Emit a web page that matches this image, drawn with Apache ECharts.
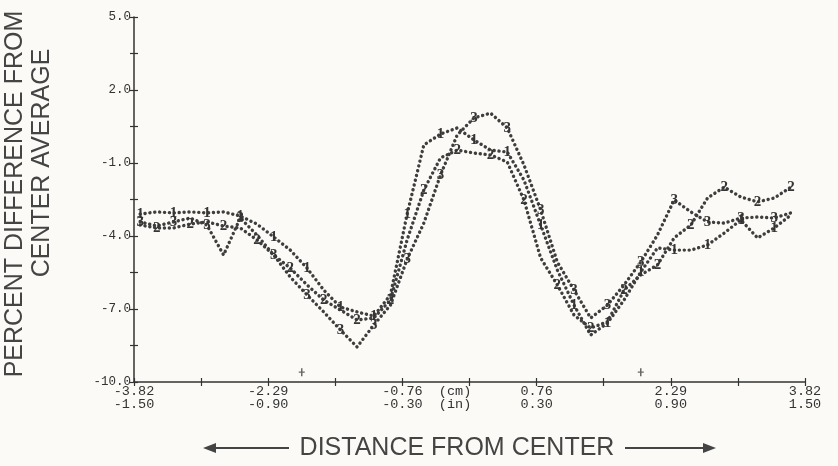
<!DOCTYPE html>
<html>
<head>
<meta charset="utf-8">
<script src="https://cdn.jsdelivr.net/npm/echarts@6/dist/echarts.min.js"></script>
<style>
html,body{margin:0;padding:0;background:#fbfaf6;}
#chart{width:838px;height:466px;}
</style>
</head>
<body>
<div id="chart"></div>
<script>
// Distance from center (cm)
const xCm = [-3.75,-3.56,-3.37,-3.18,-2.99,-2.80,-2.61,-2.42,-2.23,-2.04,-1.85,-1.66,-1.47,-1.28,-1.09,-0.90,-0.71,-0.52,-0.33,-0.14,0.05,0.24,0.43,0.62,0.81,1.00,1.19,1.38,1.57,1.76,1.95,2.14,2.33,2.52,2.71,2.90,3.09,3.28,3.47,3.66];
// Percent difference from center average
const series1 = [-3.10,-3.01,-3.05,-3.01,-3.05,-3.01,-3.18,-3.51,-4.04,-4.58,-5.32,-6.22,-6.92,-7.12,-7.29,-6.42,-3.10,-0.26,0.19,0.44,-0.05,-0.47,-0.55,-1.70,-3.55,-5.40,-6.84,-8.07,-7.58,-6.63,-5.48,-4.49,-4.58,-4.58,-4.37,-3.88,-3.34,-4.08,-3.67,-3.14];
const series2 = [-3.55,-3.67,-3.67,-3.51,-3.42,-3.59,-3.67,-4.16,-4.78,-5.32,-6.01,-6.63,-7.04,-7.45,-7.37,-6.63,-4.16,-2.11,-0.79,-0.47,-0.59,-0.67,-0.96,-2.52,-4.90,-6.01,-7.25,-7.78,-7.53,-6.22,-5.60,-5.19,-4.08,-3.55,-2.44,-1.99,-2.40,-2.60,-2.44,-1.99];
const series3 = [-3.42,-3.59,-3.42,-3.26,-3.55,-4.78,-3.26,-3.96,-4.78,-5.69,-6.42,-7.12,-7.86,-8.56,-7.66,-6.84,-4.95,-3.47,-1.49,0.15,0.85,1.05,0.44,-1.08,-2.93,-5.07,-6.22,-7.37,-6.84,-6.01,-5.07,-3.96,-2.52,-3.01,-3.42,-3.47,-3.26,-3.22,-3.26,-3.05];
const seriesNames = ['1','2','3'];
// Tick labels
const cmLabels = ['-3.82','-2.29','-0.76','0.76','2.29','3.82'];
const inLabels = ['-1.50','-0.90','-0.30','0.30','0.90','1.50'];
// Small reference marks above the x axis
const refMarkX = [-1.91, 1.95];
const refMarkY = [-9.6, -9.6];

const ink = '#3e3e3e';
const monoFont = '"Liberation Mono","DejaVu Sans Mono",monospace';

function mkSeries(name, vals, parity) {
  return {
    name: name,
    type: 'line',
    data: xCm.map((x, i) => [x, vals[i]]),
    symbol: 'circle',
    symbolSize: 1,
    showSymbol: true,
    showAllSymbol: true,
    itemStyle: { color: 'rgba(0,0,0,0)' },
    lineStyle: { color: ink, width: 3.4, type: [0.1, 4.8], cap: 'round' },
    label: {
      show: true,
      position: 'inside',
      formatter: p => (p.dataIndex % 2 === parity ? name : ''),
      fontFamily: '"Liberation Serif","DejaVu Serif",serif',
      fontSize: 15,
      fontWeight: 'bold',
      color: '#353535'
    },
    labelLayout: { hideOverlap: false },
    silent: true,
    animation: false
  };
}

const chart = echarts.init(document.getElementById('chart'), null, { renderer: 'canvas' });
const yBase = {
  type: 'value', min: -10, max: 5, interval: 3,
  splitLine: { show: false }
};
const xBase = {
  type: 'value', min: -3.82, max: 3.82, interval: 0.764,
  splitLine: { show: false }
};
chart.setOption({
  backgroundColor: '#fbfaf6',
  animation: false,
  grid: { left: 134, top: 17, width: 671, height: 365, containLabel: false },
  xAxis: [
    Object.assign({}, xBase, {
      axisLine: { show: true, onZero: false, lineStyle: { color: '#333', width: 1.5 } },
      axisTick: { show: true, length: 4, lineStyle: { color: '#333', width: 1.2 } },
      axisLabel: {
        show: true, interval: 0, margin: 3, showMinLabel: true, showMaxLabel: true,
        fontFamily: monoFont, fontSize: 13.5, lineHeight: 13, color: '#333',
        formatter: (v, i) => {
          if (i % 2 !== 0) return '';
          const k = i / 2;
          if (k === 2) return '      ' + cmLabels[k] + '  (cm)\n      ' + inLabels[k] + '  (in)';
          return cmLabels[k] + '\n' + inLabels[k];
        }
      }
    }),
    Object.assign({}, xBase, {
      position: 'bottom',
      axisLine: { show: false, onZero: false },
      axisTick: { show: true, inside: true, length: 4, lineStyle: { color: '#333', width: 1.2 } },
      axisLabel: { show: false }
    })
  ],
  yAxis: [
    Object.assign({}, yBase, {
      axisLine: { show: true, onZero: false, lineStyle: { color: '#333', width: 1.5 } },
      axisTick: { show: true, length: 4, lineStyle: { color: '#333', width: 1.2 } },
      minorTick: { show: true, splitNumber: 2, length: 4, lineStyle: { color: '#333', width: 1.2 } },
      axisLabel: {
        show: true, margin: 3, fontFamily: monoFont, fontSize: 12.5, color: '#333',
        formatter: v => v.toFixed(1)
      }
    }),
    Object.assign({}, yBase, {
      position: 'left',
      axisLine: { show: false, onZero: false },
      axisTick: { show: true, inside: true, length: 4, lineStyle: { color: '#333', width: 1.2 } },
      minorTick: { show: true, splitNumber: 2, length: 4, lineStyle: { color: '#333', width: 1.2 } },
      axisLabel: { show: false }
    })
  ],
  series: [
    mkSeries(seriesNames[0], series1, 0),
    mkSeries(seriesNames[1], series2, 1),
    mkSeries(seriesNames[2], series3, 0),
    {
      type: 'scatter',
      data: refMarkX.map((x, i) => [x, refMarkY[i]]),
      symbol: 'path://M4,0h2v10h-2z M1,4h8v1.5h-8z',
      symbolSize: [6, 8],
      itemStyle: { color: '#444' },
      silent: true
    }
  ],
  graphic: [
    {
      type: 'text', x: 15, y: 194, rotation: Math.PI / 2,
      style: { text: 'PERCENT DIFFERENCE FROM', font: '25px "Liberation Sans", Arial, sans-serif',
        textAlign: 'center', textVerticalAlign: 'middle', fill: '#444' }
    },
    {
      type: 'text', x: 42, y: 163, rotation: Math.PI / 2,
      style: { text: 'CENTER AVERAGE', font: '25px "Liberation Sans", Arial, sans-serif',
        textAlign: 'center', textVerticalAlign: 'middle', fill: '#444' }
    },
    {
      type: 'text', x: 457, y: 448,
      style: { text: 'DISTANCE FROM CENTER', font: '25px "Liberation Sans", Arial, sans-serif',
        textAlign: 'center', textVerticalAlign: 'middle', fill: '#444' }
    },
    { type: 'line', shape: { x1: 212, y1: 448, x2: 289, y2: 448 }, style: { stroke: '#444', lineWidth: 2 } },
    { type: 'polygon', shape: { points: [[203, 448], [216, 443], [216, 453]] }, style: { fill: '#444' } },
    { type: 'line', shape: { x1: 625, y1: 448, x2: 706, y2: 448 }, style: { stroke: '#444', lineWidth: 2 } },
    { type: 'polygon', shape: { points: [[716, 448], [703, 443], [703, 453]] }, style: { fill: '#444' } }
  ]
});
</script>
</body>
</html>
